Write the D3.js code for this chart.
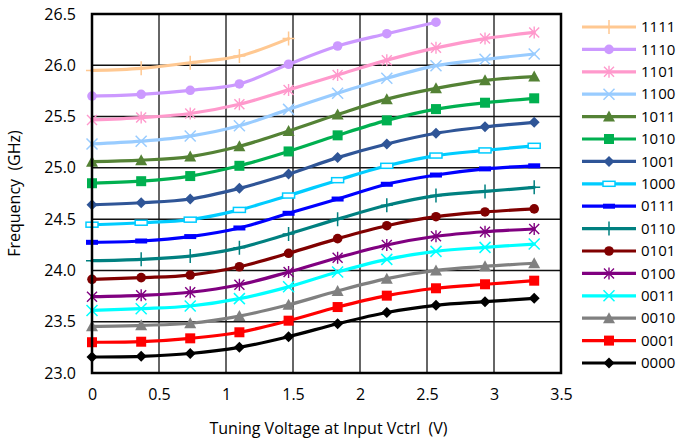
<!DOCTYPE html>
<html><head><meta charset="utf-8">
<script src="https://cdn.jsdelivr.net/npm/d3@7"></script>
<style>
html,body{margin:0;padding:0;background:#fff;}
svg text{font-family:"Open Sans","Noto Sans",sans-serif;white-space:pre;}
</style>
</head><body>
<svg id="chart" width="680" height="442"></svg>
<script>
const voltages = [0, 0.367, 0.733, 1.1, 1.467, 1.833, 2.2, 2.567, 2.933, 3.3];
const codes = ["1111","1110","1101","1100","1011","1010","1001","1000","0111","0110","0101","0100","0011","0010","0001","0000"];
const s1111 = [25.95, 25.97, 26.025, 26.09, 26.26];
const s1110 = [25.70, 25.717, 25.756, 25.818, 26.01, 26.188, 26.308, 26.42];
const s1101 = [25.467, 25.49, 25.53, 25.62, 25.76, 25.905, 26.05, 26.17, 26.26, 26.32];
const s1100 = [25.233, 25.26, 25.31, 25.41, 25.57, 25.727, 25.873, 25.996, 26.058, 26.11];
const s1011 = [25.06, 25.075, 25.11, 25.21, 25.36, 25.52, 25.67, 25.775, 25.853, 25.89];
const s1010 = [24.85, 24.87, 24.92, 25.02, 25.16, 25.317, 25.463, 25.573, 25.635, 25.678];
const s1001 = [24.64, 24.66, 24.696, 24.80, 24.94, 25.10, 25.233, 25.337, 25.40, 25.444];
const s1000 = [24.446, 24.465, 24.495, 24.59, 24.73, 24.88, 25.02, 25.12, 25.17, 25.215];
const s0111 = [24.274, 24.287, 24.33, 24.414, 24.557, 24.696, 24.84, 24.93, 24.99, 25.02];
const s0110 = [24.095, 24.108, 24.14, 24.22, 24.355, 24.50, 24.635, 24.73, 24.77, 24.81];
const s0101 = [23.913, 23.93, 23.955, 24.036, 24.167, 24.31, 24.436, 24.524, 24.57, 24.60];
const s0100 = [23.744, 23.757, 23.787, 23.86, 23.985, 24.124, 24.248, 24.333, 24.378, 24.404];
const s0011 = [23.61, 23.627, 23.653, 23.725, 23.84, 23.985, 24.108, 24.186, 24.225, 24.257];
const s0010 = [23.455, 23.465, 23.485, 23.555, 23.665, 23.80, 23.92, 24.00, 24.04, 24.07];
const s0001 = [23.30, 23.305, 23.338, 23.397, 23.51, 23.643, 23.754, 23.826, 23.865, 23.90];
const s0000 = [23.156, 23.163, 23.19, 23.25, 23.354, 23.48, 23.59, 23.66, 23.695, 23.728];
const seriesValues = [s1111,s1110,s1101,s1100,s1011,s1010,s1001,s1000,s0111,s0110,s0101,s0100,s0011,s0010,s0001,s0000];
const colors = ["#ffc891","#cc99ff","#ff99cc","#99ccff","#548235","#00b050","#2f5597","#00ccff","#0000ff","#008080","#800000","#800080","#00ffff","#808080","#ff0000","#000000"];
const markers = ["plus","circle","asterisk","cross","triangle","square","diamond","dashbox","dash","plus","circle","asterisk","cross","triangle","square","diamond"];
const xTicks = [0, 0.5, 1, 1.5, 2, 2.5, 3, 3.5];
const xTickLabels = ["0","0.5","1","1.5","2","2.5","3","3.5"];
const yTicks = [23.0, 23.5, 24.0, 24.5, 25.0, 25.5, 26.0, 26.5];
const yTickLabels = ["23.0","23.5","24.0","24.5","25.0","25.5","26.0","26.5"];
const xTitle = "Tuning Voltage at Input Vctrl  (V)";
const yTitle = "Frequency  (GHz)";

const svg = d3.select("#chart");
const L = 92, R = 561, T = 14, B = 373;
const x = d3.scaleLinear().domain([0, 3.5]).range([L, R]);
const y = d3.scaleLinear().domain([23, 26.5]).range([B, T]);

// gridlines
const g = svg.append("g");
g.selectAll("line.vg").data(xTicks.slice(1, -1)).join("line")
  .attr("x1", d => x(d)).attr("x2", d => x(d)).attr("y1", T).attr("y2", B)
  .attr("stroke", "#333").attr("stroke-width", 1.5);
g.selectAll("line.hg").data(yTicks.slice(1, -1)).join("line")
  .attr("x1", L).attr("x2", R).attr("y1", d => y(d)).attr("y2", d => y(d))
  .attr("stroke", "#111").attr("stroke-width", 1.5);

// axes (labels only)
const xAxis = d3.axisBottom(x).tickValues(xTicks).tickFormat((d, i) => xTickLabels[i]).tickSize(0).tickPadding(16);
const xa = svg.append("g").attr("transform", `translate(0,${B})`).call(xAxis);
xa.select(".domain").remove();
xa.selectAll("text").attr("font-size", 16).attr("fill", "#000").attr("font-family", "Lato, 'Open Sans', sans-serif");
const yAxis = d3.axisLeft(y).tickValues(yTicks).tickFormat((d, i) => yTickLabels[i]).tickSize(0).tickPadding(16);
const ya = svg.append("g").attr("transform", `translate(${L},0)`).call(yAxis);
ya.select(".domain").remove();
ya.selectAll("text").attr("font-size", 16).attr("fill", "#000").attr("font-family", "Lato, 'Open Sans', sans-serif");

svg.append("text").attr("x", (L + R) / 2 + 2).attr("y", 434).attr("text-anchor", "middle")
  .attr("font-size", 16).attr("font-family", "Lato, 'Open Sans', sans-serif").text(xTitle);
svg.append("text").attr("transform", `translate(20,${(T + B) / 2}) rotate(-90)`).attr("text-anchor", "middle")
  .attr("font-size", 16).attr("font-family", "Lato, 'Open Sans', sans-serif").text(yTitle);

// marker drawing
function drawMarker(sel, type, color, cx, cy) {
  const m = sel.append("g").attr("transform", `translate(${cx},${cy})`);
  switch (type) {
    case "plus":
      m.append("path").attr("d", "M-6,0H6M0,-7V7").attr("stroke", color).attr("stroke-width", 1.5).attr("fill", "none"); break;
    case "circle":
      m.append("circle").attr("r", 4.8).attr("fill", color); break;
    case "asterisk":
      m.append("path").attr("d", "M-5,-5L5,5M-5,5L5,-5M0,-6V6").attr("stroke", color).attr("stroke-width", 1.4).attr("fill", "none"); break;
    case "cross":
      m.append("path").attr("d", "M-5.5,-5.5L5.5,5.5M-5.5,5.5L5.5,-5.5").attr("stroke", color).attr("stroke-width", 1.5).attr("fill", "none"); break;
    case "triangle":
      m.append("path").attr("d", "M0,-6L6,5H-6Z").attr("fill", color); break;
    case "square":
      m.append("rect").attr("x", -5).attr("y", -5).attr("width", 10).attr("height", 10).attr("fill", color); break;
    case "diamond":
      m.append("path").attr("d", "M0,-5.5L5.5,0L0,5.5L-5.5,0Z").attr("fill", color); break;
    case "dashbox":
      m.append("rect").attr("x", -6).attr("y", -2.5).attr("width", 12).attr("height", 5).attr("fill", "#fff").attr("stroke", color).attr("stroke-width", 1.5); break;
    case "dash":
      m.append("rect").attr("x", -6).attr("y", -2.5).attr("width", 12).attr("height", 5).attr("fill", color); break;
  }
}

const line = d3.line().x((d, i) => x(voltages[i])).y(d => y(d)).curve(d3.curveCatmullRom.alpha(0.5));

// draw series bottom-up so top ones overlay
const lines = svg.append("g");
for (let k = seriesValues.length - 1; k >= 0; k--) {
  const vals = seriesValues[k];
  const sg = lines.append("g");
  sg.append("path").attr("d", line(vals)).attr("fill", "none").attr("stroke", colors[k]).attr("stroke-width", 3.2)
    .attr("stroke-linejoin", "round").attr("stroke-linecap", "round");
  vals.forEach((v, i) => drawMarker(sg, markers[k], colors[k], x(voltages[i]), y(v)));
}

// plot border
svg.append("rect").attr("x", L).attr("y", T).attr("width", R - L).attr("height", B - T)
  .attr("fill", "none").attr("stroke", "#000").attr("stroke-width", 2.5);

// legend
const leg = svg.append("g");
codes.forEach((c, k) => {
  const ly = 27 + k * 22.4;
  const lg = leg.append("g");
  lg.append("line").attr("x1", 582).attr("x2", 636).attr("y1", ly).attr("y2", ly)
    .attr("stroke", colors[k]).attr("stroke-width", 3.2);
  drawMarker(lg, markers[k], colors[k], 609, ly);
  lg.append("text").attr("x", 641).attr("y", ly).attr("dy", "0.35em").attr("font-size", 15)
    .attr("font-family", "Liberation Sans, Arial, sans-serif").text(c);
});
</script>
</body></html>
